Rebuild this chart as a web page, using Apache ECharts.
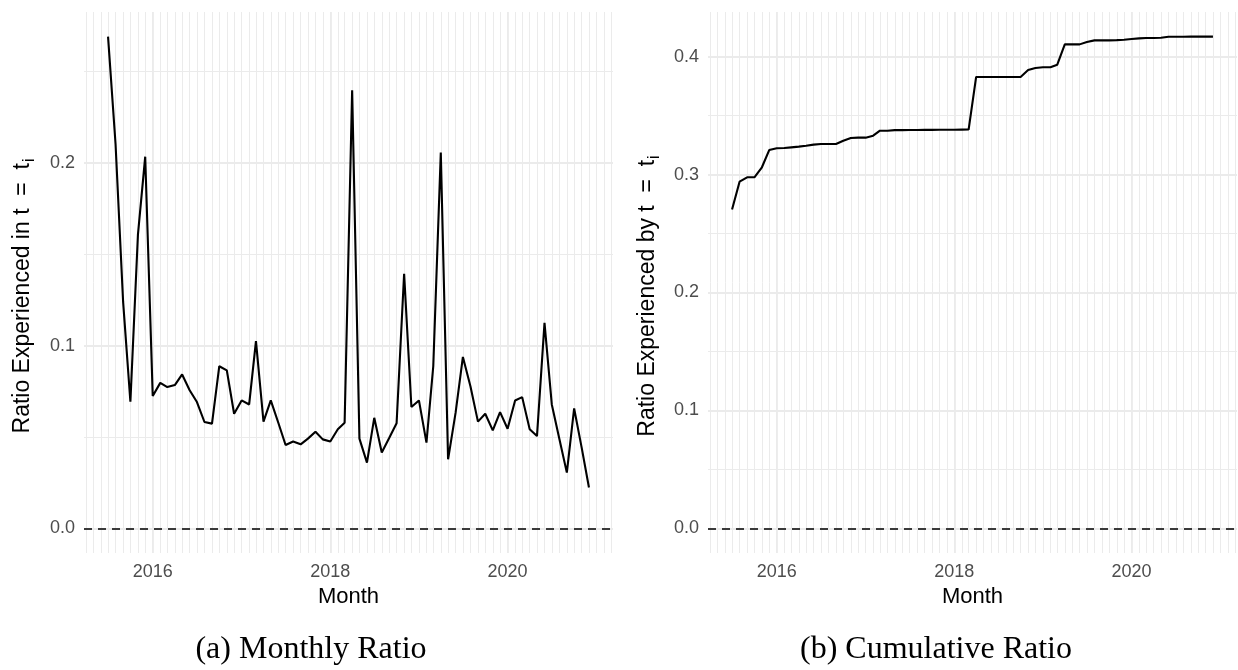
<!DOCTYPE html>
<html>
<head>
<meta charset="utf-8">
<script src="https://cdn.jsdelivr.net/npm/echarts@6/dist/echarts.min.js"></script>
<style>
  html, body { margin: 0; padding: 0; background: #fff; }
  #chart { width: 1238px; height: 670px; }
</style>
</head>
<body>
<div id="chart"></div>
<script>
// months Jul 2015 .. Dec 2020
const months = [
  '2015-07', '2015-08', '2015-09', '2015-10', '2015-11', '2015-12',
  '2016-01', '2016-02', '2016-03', '2016-04', '2016-05', '2016-06', '2016-07', '2016-08', '2016-09', '2016-10', '2016-11', '2016-12',
  '2017-01', '2017-02', '2017-03', '2017-04', '2017-05', '2017-06', '2017-07', '2017-08', '2017-09', '2017-10', '2017-11', '2017-12',
  '2018-01', '2018-02', '2018-03', '2018-04', '2018-05', '2018-06', '2018-07', '2018-08', '2018-09', '2018-10', '2018-11', '2018-12',
  '2019-01', '2019-02', '2019-03', '2019-04', '2019-05', '2019-06', '2019-07', '2019-08', '2019-09', '2019-10', '2019-11', '2019-12',
  '2020-01', '2020-02', '2020-03', '2020-04', '2020-05', '2020-06', '2020-07', '2020-08', '2020-09', '2020-10', '2020-11', '2020-12'
]

const monthlyRatio = [
  0.269, 0.21, 0.124, 0.0693, 0.1605, 0.2033,
  0.0724, 0.0796, 0.0773, 0.0784, 0.0842, 0.0756, 0.0691, 0.0582, 0.0573, 0.0887, 0.0864, 0.0627,
  0.070, 0.0678, 0.1024, 0.0584, 0.070, 0.0578, 0.0456, 0.0475, 0.046, 0.0491, 0.0529, 0.0487,
  0.0475, 0.0542, 0.0578, 0.2396, 0.0491, 0.036, 0.0605, 0.0415, 0.0496, 0.0575, 0.1393, 0.0664,
  0.070, 0.0469, 0.0887, 0.2056, 0.0378, 0.0633, 0.0938, 0.0778, 0.0584, 0.0627, 0.0536, 0.0636,
  0.0545, 0.070, 0.0718, 0.0542, 0.0505, 0.1124, 0.0678, 0.049, 0.0305, 0.0656, 0.0442, 0.0224
]

const cumulativeRatio = [
  0.2704, 0.294, 0.2977, 0.2977, 0.3062, 0.3208,
  0.3223, 0.3225, 0.3231, 0.3237, 0.3245, 0.3254, 0.3259, 0.3259, 0.3259, 0.3287, 0.331, 0.3313,
  0.3313, 0.333, 0.3372, 0.3372, 0.3377, 0.3377, 0.3378, 0.3378, 0.3379, 0.3379, 0.338, 0.338,
  0.338, 0.3381, 0.3382, 0.3828, 0.3828, 0.3828, 0.3828, 0.3828, 0.3828, 0.3828, 0.3887, 0.3904,
  0.391, 0.391, 0.3932, 0.4104, 0.4104, 0.4104, 0.4124, 0.4138, 0.4138, 0.4138, 0.414, 0.4143,
  0.4149, 0.4155, 0.4158, 0.4158, 0.416, 0.4169, 0.4169, 0.4169, 0.417, 0.417, 0.417, 0.417
]

const yearTicks = [2016, 2018, 2020]
const monthlyTicks = [0, 0.1, 0.2]
const cumulativeTicks = [0, 0.1, 0.2, 0.3, 0.4]

const SANS = '"Liberation Sans", Arial, sans-serif'
const SERIF = '"Liberation Serif", "Times New Roman", serif'
const GRID_COLOR = '#EBEBEB'
const LABEL_COLOR = '#4D4D4D'

const toTs = (s) => {
  const [y, m] = s.split('-').map(Number)
  return new Date(y, m - 1, 1).getTime()
}

const times = months.map(toTs)
const tFirst = times[0]
const tLast = times[times.length - 1]
const tPad = (tLast - tFirst) * 0.05
const xMin = tFirst - tPad
const xMax = tLast + tPad

// monthly minor grid lines across the padded range
const monthLines = []
for (let d = new Date(2015, 0, 1); d.getTime() <= xMax; d = new Date(d.getFullYear(), d.getMonth() + 1, 1)) {
  if (d.getTime() >= xMin) monthLines.push(d.getTime())
}
const yearLines = yearTicks.map(y => new Date(y, 0, 1).getTime())

const panels = [
  { values: monthlyRatio, ticks: monthlyTicks, left: 84, right: 625 },
  { values: cumulativeRatio, ticks: cumulativeTicks, left: 708, right: 1 }
]

const grids = []
const xAxes = []
const yAxes = []
const series = []

panels.forEach((p, i) => {
  const vMax = Math.max(...p.values)
  const yPad = vMax * 0.05
  const yMin = -yPad
  const yMax = vMax + yPad

  grids.push({ left: p.left, right: p.right, top: 12, bottom: 117 })

  // dates kept as timestamps on a plain value axis so label positions can be fixed
  xAxes.push({
    type: 'value',
    gridIndex: i,
    min: xMin,
    max: xMax,
    axisLine: { show: false },
    axisTick: { show: false },
    splitLine: { show: false },
    axisLabel: {
      customValues: yearLines,
      formatter: (v) => String(new Date(v).getFullYear()),
      color: LABEL_COLOR,
      fontSize: 18,
      fontFamily: SANS,
      margin: 10
    }
  })

  yAxes.push({
    type: 'value',
    gridIndex: i,
    min: yMin,
    max: yMax,
    axisLine: { show: false },
    axisTick: { show: false },
    splitLine: { show: false },
    axisLabel: {
      customValues: p.ticks,
      formatter: (v) => v.toFixed(1),
      color: LABEL_COLOR,
      fontSize: 18,
      fontFamily: SANS,
      margin: 9
    }
  })

  const minorH = p.ticks.map(t => t + 0.05).filter(v => v < yMax)
  const lines = []
  monthLines.forEach(t => lines.push({ xAxis: t, lineStyle: { color: GRID_COLOR, width: 1 } }))
  minorH.forEach(v => lines.push({ yAxis: v, lineStyle: { color: GRID_COLOR, width: 1 } }))
  yearLines.forEach(t => lines.push({ xAxis: t, lineStyle: { color: GRID_COLOR, width: 1.8 } }))
  p.ticks.forEach(v => lines.push({ yAxis: v, lineStyle: { color: GRID_COLOR, width: 1.8 } }))
  // dashed reference line at zero
  lines.push({ yAxis: 0, lineStyle: { color: '#000', width: 1.6, type: [8, 6] } })

  series.push({
    type: 'line',
    xAxisIndex: i,
    yAxisIndex: i,
    data: [],
    silent: true,
    markLine: {
      silent: true,
      symbol: ['none', 'none'],
      label: { show: false },
      lineStyle: { type: 'solid' },
      animation: false,
      data: lines
    }
  })

  // own layer so the grid marklines stay underneath
  series.push({
    type: 'line',
    xAxisIndex: i,
    yAxisIndex: i,
    zlevel: 1,
    showSymbol: false,
    symbol: 'none',
    lineStyle: { color: '#000', width: 2.1 },
    data: times.map((t, k) => [t, p.values[k]])
  })
})

const yTitle = (x, text) => ({
  type: 'text',
  x: x,
  y: 296,
  rotation: Math.PI / 2,
  style: {
    text: text + '{s|i}',
    font: '23px ' + SANS,
    fill: '#000',
    align: 'center',
    verticalAlign: 'middle',
    rich: {
      s: { fontSize: 16, fontFamily: SANS, fill: '#000', verticalAlign: 'top', padding: [13, 0, 0, 1] }
    }
  }
})

const textAt = (x, y, text, font) => ({
  type: 'text',
  x: x,
  y: y,
  style: { text: text, font: font, fill: '#000', align: 'center', verticalAlign: 'middle' }
})

const chart = echarts.init(document.getElementById('chart'))
chart.setOption({
  animation: false,
  backgroundColor: '#fff',
  grid: grids,
  xAxis: xAxes,
  yAxis: yAxes,
  series: series,
  graphic: [
    yTitle(23, 'Ratio Experienced in t  =  t'),
    yTitle(648, 'Ratio Experienced by t  =  t'),
    textAt(348.5, 597, 'Month', '22px ' + SANS),
    textAt(972.5, 597, 'Month', '22px ' + SANS),
    textAt(311, 650, '(a) Monthly Ratio', '32px ' + SERIF),
    textAt(936, 650, '(b) Cumulative Ratio', '32px ' + SERIF)
  ]
})
</script>
</body>
</html>
